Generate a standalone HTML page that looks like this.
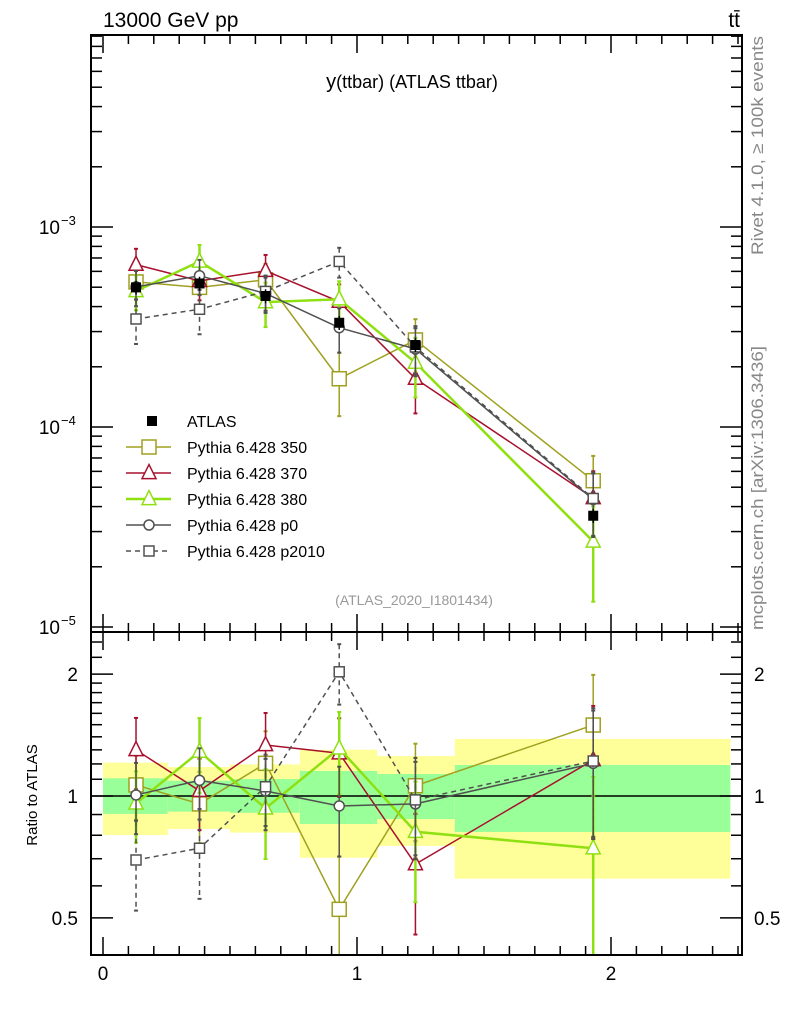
<!DOCTYPE html>
<html><head><meta charset="utf-8">
<style>
html,body{margin:0;padding:0;background:#fff;}
svg{display:block;font-family:"Liberation Sans",sans-serif;}
</style></head>
<body>
<svg id="plot" width="786" height="1024" viewBox="0 0 786 1024" xmlns="http://www.w3.org/2000/svg">
<text x="103" y="27" font-size="21">13000 GeV pp</text>
<text x="740" y="27" font-size="21" text-anchor="end">tt̄</text>
<text x="412" y="88" font-size="18" text-anchor="middle"><tspan font-size="20">y</tspan>(ttbar) (ATLAS ttbar)</text>
<text x="414" y="605" font-size="14" fill="#999" text-anchor="middle">(ATLAS_2020_I1801434)</text>
<text transform="translate(763,255) rotate(-90)" font-size="17" fill="#888" textLength="219" lengthAdjust="spacingAndGlyphs">Rivet 4.1.0, ≥ 100k events</text>
<text transform="translate(763,630) rotate(-90)" font-size="17" fill="#888" textLength="284" lengthAdjust="spacingAndGlyphs">mcplots.cern.ch [arXiv:1306.3436]</text>
<text transform="translate(37,795) rotate(-90)" font-size="15" text-anchor="middle">Ratio to ATLAS</text>
<g id="bands"></g>
<g id="ticks"></g>
<g id="series"></g>
<g id="legend"></g>
<rect x="91" y="35" width="651" height="597" fill="none" stroke="#000" stroke-width="2"/>
<rect x="91" y="632" width="651" height="323" fill="none" stroke="#000" stroke-width="2"/>
</svg>
<script>
const binEdges=[0,0.255,0.5,0.775,1.08,1.385,2.47];
const xCenters=[0.13,0.38,0.64,0.93,1.23,1.93];
const atlasVals=[4.99e-4,5.22e-4,4.52e-4,3.32e-4,2.57e-4,3.6e-5];
const bandYelHi=[1.209,1.179,1.197,1.301,1.255,1.383];
const bandYelLo=[0.801,0.829,0.812,0.704,0.753,0.625];
const bandGrnHi=[1.106,1.091,1.101,1.153,1.133,1.193];
const bandGrnLo=[0.903,0.915,0.909,0.853,0.877,0.815];
const ratio350=[1.065,0.956,1.204,0.525,1.060,1.497];
const ratio370=[1.299,1.03,1.336,1.275,0.679,1.227];
const ratio380=[0.959,1.287,0.932,1.311,0.816,0.743];
const ratioP0=[1.006,1.093,1.029,0.945,0.956,1.204];
const ratioP2010=[0.695,0.743,1.054,2.026,0.978,1.22];
const relErr350=[0.18,0.2,0.2,0.35,0.27,0.33];
const relErr370=[0.2,0.2,0.2,0.22,0.33,0.36];
const relErr380=[0.2,0.21,0.25,0.23,0.33,0.5];
const relErrP0=[0.2,0.2,0.2,0.25,0.27,0.35];
const relErrP2010=[0.25,0.25,0.2,0.17,0.27,0.35];
const xTickLabels=["0","1","2"];
const mainTickLabels=["−3","−4","−5"];
const ratioTickLabels=["0.5","1","2"];

const NS="http://www.w3.org/2000/svg";
const X=v=>103+v*254;
const YM=v=>227-200*(Math.log10(v)+3);
const YR=v=>796-405*Math.log10(v);
function mk(tag,attrs,parent){const e=document.createElementNS(NS,tag);for(const k in attrs)e.setAttribute(k,attrs[k]);parent.appendChild(e);return e;}
const gB=document.getElementById('bands'),gT=document.getElementById('ticks'),gS=document.getElementById('series'),gL=document.getElementById('legend');

for(let i=0;i<binEdges.length-1;i++){
 const x0=X(binEdges[i]),x1=X(binEdges[i+1]);
 let r=mk('rect',{x:x0,y:YR(bandYelHi[i]),width:x1-x0,height:YR(bandYelLo[i])-YR(bandYelHi[i]),fill:'#ffff99'},gB);
 
 
 let g=mk('rect',{x:x0,y:YR(bandGrnHi[i]),width:x1-x0,height:YR(bandGrnLo[i])-YR(bandGrnHi[i]),fill:'#99ff99'},gB);
 
 
}
let l1=mk('line',{x1:91,x2:742,y1:YR(1),y2:YR(1),stroke:'#000','stroke-width':1.5},gB);



function tk(x1,y1,x2,y2,w){mk('line',{x1,y1,x2,y2,stroke:'#000','stroke-width':w||1.5},gT);}
for(let i=0;i<=25;i++){const v=i/10,x=X(v);if(x>742)break;const maj=(i%10===0);const L=maj?18:9;
 tk(x,35,x,35+L);tk(x,632,x,632-L);tk(x,632,x,632+L);tk(x,955,x,955-L);}
for(let d=-6;d<=-2;d++){for(let m=1;m<=9;m++){const v=m*Math.pow(10,d);const y=YM(v);if(y<35||y>632)continue;const L=m===1?22:11;tk(91,y,91+L,y);tk(742,y,742-L,y);}}
const rt=[];for(let v=0.4;v<2.0;v+=0.1)rt.push(+v.toFixed(1));rt.push(2,2.2,2.4);
rt.forEach(v=>{const y=YR(v);if(y<632||y>955)return;const maj=(v===0.5||v===1||v===2);const L=maj?22:11;tk(91,y,91+L,y);tk(742,y,742-L,y);});
[0,1,2].forEach((v,i)=>{let t=mk('text',{x:X(v),y:980,'font-size':19,'text-anchor':'middle'},gT);t.textContent=xTickLabels[i];
 
 });
[-3,-4,-5].forEach((d,i)=>{let t=mk('text',{x:60,y:YM(Math.pow(10,d))+7,'font-size':19,'text-anchor':'end'},gT);t.textContent='10';
 
 
 let s=mk('text',{x:61,y:YM(Math.pow(10,d))-2,'font-size':13},gT);s.textContent=mainTickLabels[i];
 
 });
[0.5,1,2].forEach((v,i)=>{let t=mk('text',{x:78,y:YR(v)+7,'font-size':19,'text-anchor':'end'},gT);t.textContent=ratioTickLabels[i];
 
 
 let r=mk('text',{x:754,y:YR(v)+7,'font-size':19},gT);r.textContent=ratioTickLabels[i];
 
 });

function marker(type,x,y,c,sz,par){
 if(type==='sq')return mk('rect',{x:x-sz/2,y:y-sz/2,width:sz,height:sz,fill:'#fff',stroke:c,'stroke-width':1.5},par);
 if(type==='tri')return mk('polygon',{points:`${x},${y-sz*0.6} ${x-sz/2},${y+sz*0.4} ${x+sz/2},${y+sz*0.4}`,fill:'#fff',stroke:c,'stroke-width':1.5},par);
 if(type==='circ')return mk('circle',{cx:x,cy:y,r:sz/2,fill:'#fff',stroke:c,'stroke-width':1.5},par);
 if(type==='fsq')return mk('rect',{x:x-sz/2,y:y-sz/2,width:sz,height:sz,fill:'#000'},par);
}
const series=[
 {name:'350',ratio:ratio350,err:relErr350,c:'#a0a020',w:1.5,type:'sq',sz:14,dash:null},
 {name:'370',ratio:ratio370,err:relErr370,c:'#a8102e',w:1.5,type:'tri',sz:14,dash:null},
 {name:'380',ratio:ratio380,err:relErr380,c:'#8fe010',w:2.5,type:'tri',sz:14,dash:null},
 {name:'p0',ratio:ratioP0,err:relErrP0,c:'#505050',w:1.5,type:'circ',sz:10,dash:null},
 {name:'p2010',ratio:ratioP2010,err:relErrP2010,c:'#505050',w:1.5,type:'sq',sz:10,dash:'5,4'}
];
function clampR(y){return Math.max(632,Math.min(955,y));}
function clampM(y){return Math.max(35,Math.min(632,y));}
series.forEach(s=>{
 const g=mk('g',{},gS);
 
 
 const vals=s.ratio.map((r,i)=>r*atlasVals[i]);
 const ptsM=vals.map((v,i)=>X(xCenters[i])+','+YM(v)).join(' ');
 const ptsR=s.ratio.map((r,i)=>X(xCenters[i])+','+YR(r)).join(' ');
 const st={fill:'none',stroke:s.c,'stroke-width':s.w};if(s.dash)st['stroke-dasharray']=s.dash;
 let pm=mk('polyline',Object.assign({points:ptsM},st),g);
 
 
 let pr=mk('polyline',Object.assign({points:ptsR},st),g);
 
 
 vals.forEach((v,i)=>{
  const x=X(xCenters[i]),e=s.err[i];
  const eb={stroke:s.c,'stroke-width':s.w};if(s.dash)eb['stroke-dasharray']=s.dash;
  const yT=clampM(YM(v*(1+e))),yB=clampM(YM(Math.max(v*(1-e),1e-9)));
  mk('line',Object.assign({x1:x,x2:x,y1:yT,y2:yB},eb),g);
  mk('line',{x1:x-2,x2:x+2,y1:yT,y2:yT,stroke:s.c,'stroke-width':2},g);
  mk('line',{x1:x-2,x2:x+2,y1:yB,y2:yB,stroke:s.c,'stroke-width':2},g);
  const r=s.ratio[i];
  const rT=clampR(YR(r*(1+e))),rB=clampR(YR(Math.max(r*(1-e),1e-3)));
  mk('line',Object.assign({x1:x,x2:x,y1:rT,y2:rB},eb),g);
  mk('line',{x1:x-2,x2:x+2,y1:rT,y2:rT,stroke:s.c,'stroke-width':2},g);
  if(rB<955)mk('line',{x1:x-2,x2:x+2,y1:rB,y2:rB,stroke:s.c,'stroke-width':2},g);
  let m1=marker(s.type,x,YM(v),s.c,s.sz,g);
  
  
  let m2=marker(s.type,x,YR(r),s.c,s.sz,g);
  
  
 });
});
const gA=mk('g',{},gS);


atlasVals.forEach((v,i)=>{const x=X(xCenters[i]);
 mk('line',{x1:x,x2:x,y1:YM(v*1.08),y2:YM(v*0.92),stroke:'#000','stroke-width':1.5},gA);
 let m=marker('fsq',x,YM(v),'#000',10,gA);
 
 });

const legItems=[['ATLAS',null],['Pythia 6.428 350',series[0]],['Pythia 6.428 370',series[1]],['Pythia 6.428 380',series[2]],['Pythia 6.428 p0',series[3]],['Pythia 6.428 p2010',series[4]]];
legItems.forEach((it,i)=>{
 const y=421+26*i;const g=mk('g',{},gL);
 
 
 if(!it[1]){marker('fsq',152,y,'#000',10,g);}
 else{const s=it[1];const st={stroke:s.c,'stroke-width':s.w};if(s.dash)st['stroke-dasharray']=s.dash;
  mk('line',Object.assign({x1:126,x2:171,y1:y,y2:y},st),g);marker(s.type,149,y,s.c,s.sz,g);}
 const t=mk('text',{x:187,y:y+6,'font-size':16},g);t.textContent=it[0];
});
</script>
</body></html>
